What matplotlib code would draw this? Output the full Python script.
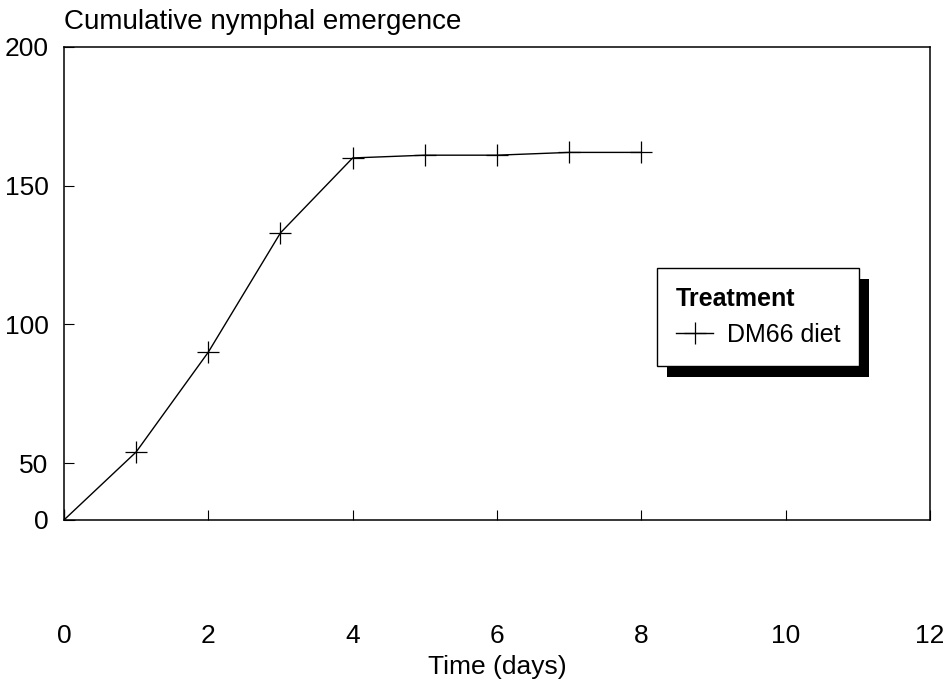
import matplotlib
matplotlib.use("Agg")
import matplotlib.pyplot as plt
import numpy as np
from matplotlib.patches import Rectangle
from matplotlib.transforms import IdentityTransform

days = [0, 1, 2, 3, 4, 5, 6, 7, 8]
emerged = [0, 54, 90, 133, 160, 161, 161, 162, 162]
x_ticks = [0, 2, 4, 6, 8, 10, 12]
y_ticks = [0, 50, 100, 150, 200]

plt.rcParams['font.family'] = ['Liberation Sans', 'DejaVu Sans']

# the scanned original squeezes the 0-50 band, so use a piecewise scale
squeeze = 0.41
def fwd(y):
    y = np.asarray(y, dtype=float)
    return np.where(y < 50, y * squeeze, 50 * squeeze + (y - 50))
def inv(u):
    u = np.asarray(u, dtype=float)
    return np.where(u < 50 * squeeze, u / squeeze, u - 50 * squeeze + 50)

fig = plt.figure(figsize=(9.49, 6.79), dpi=100)
ax = fig.add_axes([0.0674, 0.2342, 0.9126, 0.6966])
ax.set_yscale('function', functions=(fwd, inv))

ax.plot(days, emerged, color='black', lw=1.0, marker='+', ms=16, mew=0.9,
        label='DM66 diet')

ax.set_xlim(0, 12)
ax.set_ylim(0, 200)
ax.set_xticks(x_ticks)
ax.set_yticks(y_ticks)
ax.tick_params(axis='both', direction='in', length=7, width=0.8, labelsize=19)
ax.tick_params(axis='x', pad=75)
ax.tick_params(axis='y', pad=11)
for s in ax.spines.values():
    s.set_linewidth(1.1)

ax.set_xlabel('Time (days)', fontsize=19, labelpad=5)
ax.set_title('Cumulative nymphal emergence', loc='left', fontsize=20, pad=13)

leg = ax.legend(title='Treatment', loc='upper left', bbox_to_anchor=(0.685, 0.533),
                fancybox=False, edgecolor='black', framealpha=1, fontsize=18,
                title_fontproperties={'weight': 'bold', 'size': 18},
                borderpad=0.75, handlelength=1.5, handletextpad=0.55,
                labelspacing=0.5, borderaxespad=0)
leg._legend_box.align = 'left'
leg.get_frame().set_linewidth(1.0)
leg.set_zorder(6)

fig.canvas.draw()
bb = leg.get_window_extent()
shadow = Rectangle((bb.x0 + 10, bb.y0 - 11), bb.width, bb.height,
                   facecolor='black', edgecolor='none',
                   transform=IdentityTransform(), zorder=5, clip_on=False)
ax.add_artist(shadow)

fig.savefig('out.png', dpi=100)
